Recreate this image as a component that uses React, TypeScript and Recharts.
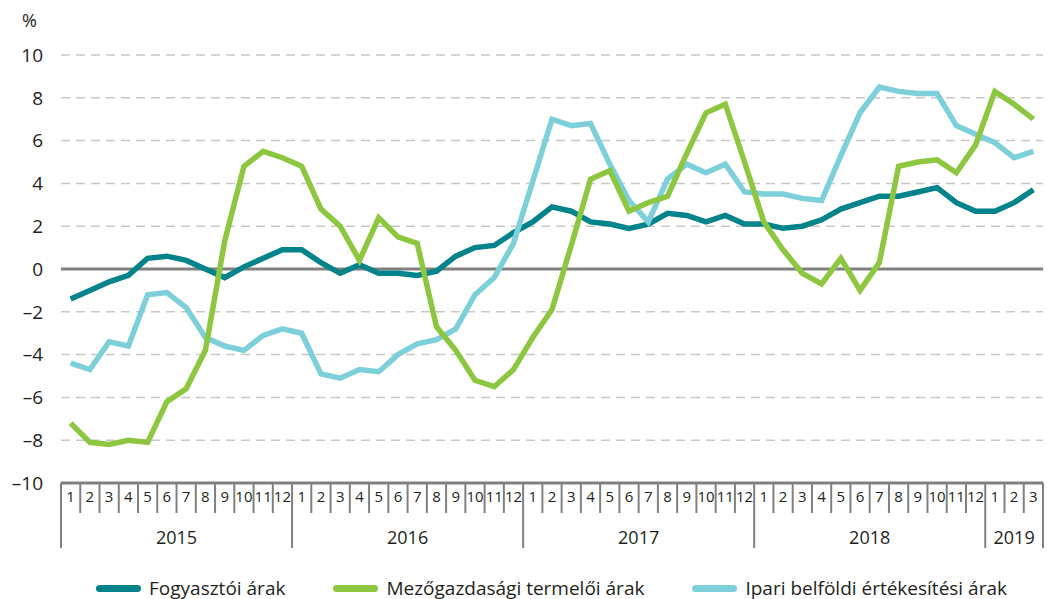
import { LineChart, Line, XAxis, YAxis, CartesianGrid, ReferenceLine, Legend } from 'recharts';

const monthLabels = [
  '1', '2', '3', '4', '5', '6', '7', '8', '9', '10', '11', '12',
  '1', '2', '3', '4', '5', '6', '7', '8', '9', '10', '11', '12',
  '1', '2', '3', '4', '5', '6', '7', '8', '9', '10', '11', '12',
  '1', '2', '3', '4', '5', '6', '7', '8', '9', '10', '11', '12',
  '1', '2', '3',
];
const yearLabels = ['2015', '2016', '2017', '2018', '2019'];
const yearMonthCounts = [12, 12, 12, 12, 3];

const fogyasztoi = [
  -1.4, -1.0, -0.6, -0.3, 0.5, 0.6, 0.4, 0.0, -0.4, 0.1, 0.5, 0.9,
  0.9, 0.3, -0.2, 0.2, -0.2, -0.2, -0.3, -0.1, 0.6, 1.0, 1.1, 1.7,
  2.2, 2.9, 2.7, 2.2, 2.1, 1.9, 2.1, 2.6, 2.5, 2.2, 2.5, 2.1,
  2.1, 1.9, 2.0, 2.3, 2.8, 3.1, 3.4, 3.4, 3.6, 3.8, 3.1, 2.7,
  2.7, 3.1, 3.7,
];
const mezogazdasagi = [
  -7.2, -8.1, -8.2, -8.0, -8.1, -6.2, -5.6, -3.8, 1.3, 4.8, 5.5, 5.2,
  4.8, 2.8, 2.0, 0.4, 2.4, 1.5, 1.2, -2.7, -3.8, -5.2, -5.5, -4.7,
  -3.2, -1.9, 1.1, 4.2, 4.6, 2.7, 3.1, 3.4, 5.4, 7.3, 7.7, 5.0,
  2.2, 0.9, -0.2, -0.7, 0.5, -1.0, 0.3, 4.8, 5.0, 5.1, 4.5, 5.8,
  8.3, 7.7, 7.0,
];
const ipari = [
  -4.4, -4.7, -3.4, -3.6, -1.2, -1.1, -1.8, -3.2, -3.6, -3.8, -3.1, -2.8,
  -3.0, -4.9, -5.1, -4.7, -4.8, -4.0, -3.5, -3.3, -2.8, -1.2, -0.4, 1.2,
  4.1, 7.0, 6.7, 6.8, 4.9, 3.2, 2.2, 4.2, 4.9, 4.5, 4.9, 3.6,
  3.5, 3.5, 3.3, 3.2, 5.3, 7.3, 8.5, 8.3, 8.2, 8.2, 6.7, 6.3,
  5.9, 5.2, 5.5,
];
const yTicks = [-10, -8, -6, -4, -2, 0, 2, 4, 6, 8, 10];

const series = [
  { key: 'fogyasztoi', name: 'Fogyasztói árak', color: '#00838a' },
  { key: 'mezogazdasagi', name: 'Mezőgazdasági termelői árak', color: '#8dc63f' },
  { key: 'ipari', name: 'Ipari belföldi értékesítési árak', color: '#7dd0d9' },
];

const data = monthLabels.map((m, i) => ({
  i,
  m,
  fogyasztoi: fogyasztoi[i],
  mezogazdasagi: mezogazdasagi[i],
  ipari: ipari[i],
}));

const W = 1047;
const H = 599;
const Y_W = 61;
const M_RIGHT = 4;
const BAND = (W - Y_W - M_RIGHT) / monthLabels.length;
const FONT = '"Open Sans", "Noto Sans", sans-serif';
const GREY = '#808080';
const TEXT = '#231f20';

// first month index of every year
const yearStarts: number[] = [];
yearMonthCounts.reduce((acc, c) => {
  yearStarts.push(acc);
  return acc + c;
}, 0);

function MonthTick(props: any) {
  const { x, y, payload } = props;
  const idx = payload.value as number;
  const isYearStart = yearStarts.includes(idx);
  const isLast = idx === monthLabels.length - 1;
  const yi = yearStarts.findIndex((s, k) => idx >= s && idx < s + yearMonthCounts[k]);
  const center = yearStarts[yi] + (yearMonthCounts[yi] - 1) / 2;
  const showYear = Math.floor(center) === idx;
  const left = x - BAND / 2;
  return (
    <g>
      <line x1={left} x2={left} y1={y} y2={y + (isYearStart ? 65 : 30)} stroke={GREY} strokeWidth={2} />
      {isLast && (
        <line x1={x + BAND / 2} x2={x + BAND / 2} y1={y} y2={y + 65} stroke={GREY} strokeWidth={2} />
      )}
      <text x={x} y={y + 19} textAnchor="middle" fontSize={15} fill={TEXT} fontFamily={FONT}>
        {monthLabels[idx]}
      </text>
      {showYear && (
        <text
          x={x + (center - idx) * BAND}
          y={y + 61}
          textAnchor="middle"
          fontSize={18}
          fill={TEXT}
          fontFamily={FONT}
        >
          {yearLabels[yi]}
        </text>
      )}
    </g>
  );
}

function LegendContent() {
  return (
    <div
      style={{
        display: 'flex',
        justifyContent: 'center',
        alignItems: 'center',
        height: 34,
        fontFamily: FONT,
        fontSize: 19,
        color: TEXT,
        gap: 48,
        paddingTop: 12,
        paddingLeft: 60,
      }}
    >
      {series.map((s) => (
        <div key={s.key} style={{ display: 'flex', alignItems: 'center' }}>
          <span
            style={{
              display: 'inline-block',
              width: 45,
              height: 7,
              borderRadius: 4,
              background: s.color,
              marginRight: 8,
            }}
          />
          <span>{s.name}</span>
        </div>
      ))}
    </div>
  );
}

export default function App() {
  return (
    <div style={{ position: 'absolute', left: 0, top: 0, width: W, height: H, background: '#fff' }}>
      <div
        style={{
          position: 'absolute',
          left: 22,
          top: 8,
          fontFamily: FONT,
          fontSize: 18,
          color: TEXT,
        }}
      >
        %
      </div>
      <LineChart width={W} height={H} data={data} margin={{ top: 55, right: M_RIGHT, left: 0, bottom: 0 }}>
        <CartesianGrid vertical={false} stroke="#c8c8c8" strokeDasharray="9 6" strokeWidth={1.5} />
        <XAxis
          dataKey="i"
          type="number"
          domain={[-0.5, monthLabels.length - 0.5]}
          ticks={data.map((d) => d.i)}
          interval={0}
          height={76}
          tickLine={false}
          tickSize={0}
          tickMargin={0}
          axisLine={{ stroke: GREY, strokeWidth: 3 }}
          tick={<MonthTick />}
        />
        <YAxis
          width={Y_W}
          domain={[-10, 10]}
          ticks={yTicks}
          interval={0}
          axisLine={false}
          tickLine={false}
          tickMargin={12}
          tick={{ fontSize: 19, fill: TEXT, fontFamily: FONT }}
          tickFormatter={(v: number) => String(v).replace('-', '–')}
        />
        <ReferenceLine y={0} stroke={GREY} strokeWidth={3} />
        <Legend verticalAlign="bottom" height={40} content={<LegendContent />} />
        <Line type="linear" dataKey="fogyasztoi" name={series[0].name} stroke={series[0].color} strokeWidth={5.5} dot={false} isAnimationActive={false} />
        <Line type="linear" dataKey="ipari" name={series[2].name} stroke={series[2].color} strokeWidth={5.5} dot={false} isAnimationActive={false} />
        <Line type="linear" dataKey="mezogazdasagi" name={series[1].name} stroke={series[1].color} strokeWidth={5.5} dot={false} isAnimationActive={false} />
      </LineChart>
    </div>
  );
}
